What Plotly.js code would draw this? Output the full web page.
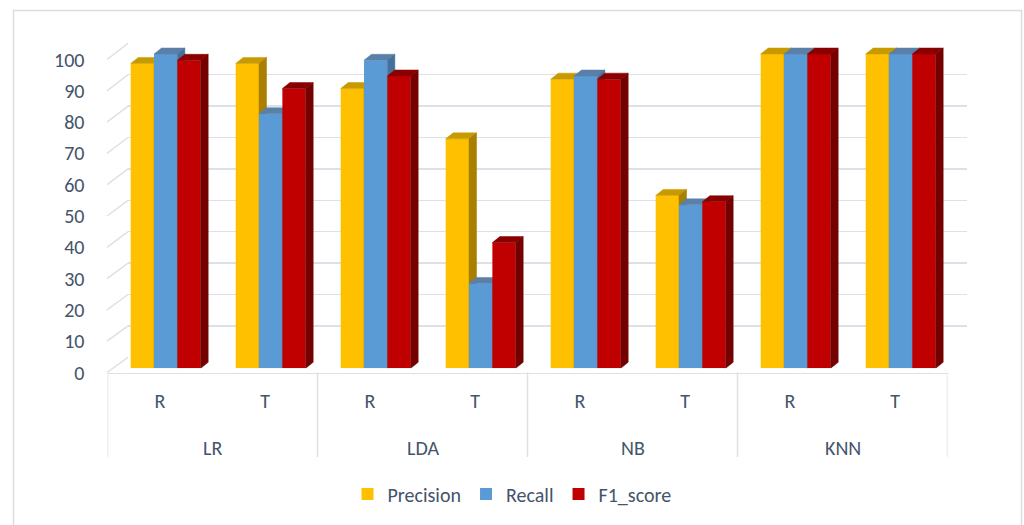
<!DOCTYPE html>
<html><head><meta charset="utf-8">
<script src="https://cdn.plot.ly/plotly-3.0.1.min.js"></script>
<style>html,body{margin:0;padding:0;background:#fff;}#chart{width:1024px;height:525px;}</style>
</head><body><div id="chart"></div>
<script>
// ---- data ----
const models = ['LR', 'LDA', 'NB', 'KNN'];
const subsets = ['R', 'T'];
const precision = [97, 97, 89, 73, 92, 55, 100, 100];
const recall = [100, 81, 98, 27, 93, 52, 100, 100];
const f1score = [98, 89, 93, 40, 92, 53, 100, 100];
const yTicks = [0, 10, 20, 30, 40, 50, 60, 70, 80, 90, 100];

// ---- geometry helpers (pixels -> paper) ----
const W = 1024, H = 525;
const px = v => v / W;
const py = v => 1 - v / H;
const pos = precision.map((_, i) => i);
const subLabels = models.flatMap(() => subsets);
const FONT = 'Carlito, Lato, "Open Sans", sans-serif';
const TXT = '#44546a';
const GRID = '#dde1e7';
const FS = 20;

const series = [
  {name: 'Precision', values: precision, front: '#ffc000', top: '#c89a00', side: '#a87f00'},
  {name: 'Recall', values: recall, front: '#5b9bd5', top: '#5a80a8', side: '#45709c'},
  {name: 'F1_score', values: f1score, front: '#c00000', top: '#8a0000', side: '#740000'}
];
const barW = 0.2222;
const dx = 7.5 / 105;   // depth in x units
const scaleY = 3.143;   // px per unit on the bar plane
const dy = 6 / scaleY;  // depth in y units
const yTop = 106;       // head-room for the 3D top faces

const traces = [
  {type: 'scatter', x: [], y: [], xaxis: 'x', yaxis: 'y', showlegend: false, hoverinfo: 'skip'},
  {type: 'scatter', x: [], y: [], xaxis: 'x2', yaxis: 'y2', showlegend: false, hoverinfo: 'skip'}
];

series.forEach((s, k) => {
  const ax = k + 3;
  const off = -1.5 * barW + k * barW;
  traces.push({
    type: 'bar', name: s.name, x: pos, y: s.values, width: barW, offset: off,
    marker: {color: s.front, line: {width: 0}},
    xaxis: 'x' + ax, yaxis: 'y' + ax, hoverinfo: 'y+name'
  });
  const tx = [], ty = [], sx = [], sy = [];
  pos.forEach((p, i) => {
    const v = s.values[i], xl = p + off, xr = xl + barW;
    tx.push(xl, xl + dx, xr + dx, xr, xl, null);
    ty.push(v, v + dy, v + dy, v, v, null);
    sx.push(xr, xr, xr + dx, xr + dx, xr, null);
    sy.push(0, v, v + dy, dy, 0, null);
  });
  traces.push({type: 'scatter', mode: 'lines', x: tx, y: ty, fill: 'toself', fillcolor: s.top,
    line: {color: s.top, width: 0.5}, xaxis: 'x' + ax, yaxis: 'y' + ax, showlegend: false, hoverinfo: 'skip'});
  traces.push({type: 'scatter', mode: 'lines', x: sx, y: sy, fill: 'toself', fillcolor: s.side,
    line: {color: s.side, width: 0.5}, xaxis: 'x' + ax, yaxis: 'y' + ax, showlegend: false, hoverinfo: 'skip'});
});

const layout = {
  width: W, height: H,
  margin: {l: 0, r: 0, t: 0, b: 0},
  paper_bgcolor: '#ffffff', plot_bgcolor: 'rgba(0,0,0,0)',
  font: {family: FONT, size: FS, color: TXT},
  showlegend: true,
  legend: {orientation: 'h', x: 0.5, xanchor: 'center', y: py(494), yanchor: 'middle',
    font: {family: FONT, size: FS, color: TXT}, bgcolor: 'rgba(0,0,0,0)', traceorder: 'normal'},
  xaxis: {domain: [px(107.5), px(947.5)], range: [-0.5, 7.5], anchor: 'y',
    tickmode: 'array', tickvals: pos, ticktext: subLabels,
    ticks: 'outside', ticklen: 10, tickcolor: 'rgba(0,0,0,0)',
    showline: true, linecolor: GRID, linewidth: 1.5, showgrid: false, zeroline: false,
    tickfont: {family: FONT, size: FS, color: TXT}, fixedrange: true},
  yaxis: {domain: [py(372.5), py(59.5)], range: [0, 100], anchor: 'x',
    tickmode: 'array', tickvals: yTicks,
    ticks: 'outside', ticklen: 18, tickcolor: 'rgba(0,0,0,0)',
    showline: false, showgrid: false, zeroline: false,
    tickfont: {family: FONT, size: FS, color: TXT}, fixedrange: true},
  xaxis2: {domain: [px(128), px(967)], range: [-0.5, 7.5], anchor: 'y2', visible: false, fixedrange: true},
  yaxis2: {domain: [py(357.3), py(43.3)], range: [0, 100], anchor: 'x2',
    tickmode: 'array', tickvals: yTicks, showticklabels: false, ticks: '',
    showgrid: true, gridcolor: GRID, gridwidth: 1.5, zeroline: false, showline: false, fixedrange: true},
  annotations: models.map((m, j) => ({
    x: j * subsets.length + (subsets.length - 1) / 2, xref: 'x', y: py(448), yref: 'paper',
    text: m, showarrow: false, font: {family: FONT, size: FS, color: TXT}, yanchor: 'middle'
  })),
  shapes: []
};

for (let k = 3; k <= 5; k++) {
  layout['xaxis' + k] = {domain: [px(113.2), px(953.2)], range: [-0.5, 7.5], anchor: 'y' + k, visible: false, fixedrange: true};
  layout['yaxis' + k] = {domain: [py(368.3), py(368.3 - scaleY * yTop)], range: [0, yTop], anchor: 'x' + k, visible: false, fixedrange: true};
}

// category dividers
for (let j = 0; j <= models.length; j++) {
  const xv = j * subsets.length - 0.5;
  layout.shapes.push({type: 'line', xref: 'x', yref: 'paper', x0: xv, x1: xv, y0: py(457), y1: py(372.5),
    line: {color: GRID, width: 1.5}, layer: 'below'});
}
// side-wall diagonals
yTicks.forEach(v => {
  layout.shapes.push({type: 'line', xref: 'paper', yref: 'paper',
    x0: px(107), y0: py(372.5 - 3.13 * v), x1: px(128), y1: py(357.3 - 3.14 * v),
    line: {color: GRID, width: 1.5}, layer: 'below'});
});
// chart border
layout.shapes.push({type: 'rect', xref: 'paper', yref: 'paper', x0: px(13.5), x1: px(1021.5), y0: -0.05, y1: py(10.5),
  line: {color: '#d9dde3', width: 1.5}, layer: 'below'});

Plotly.newPlot('chart', traces, layout, {displayModeBar: false, staticPlot: true});
</script>
</body></html>
